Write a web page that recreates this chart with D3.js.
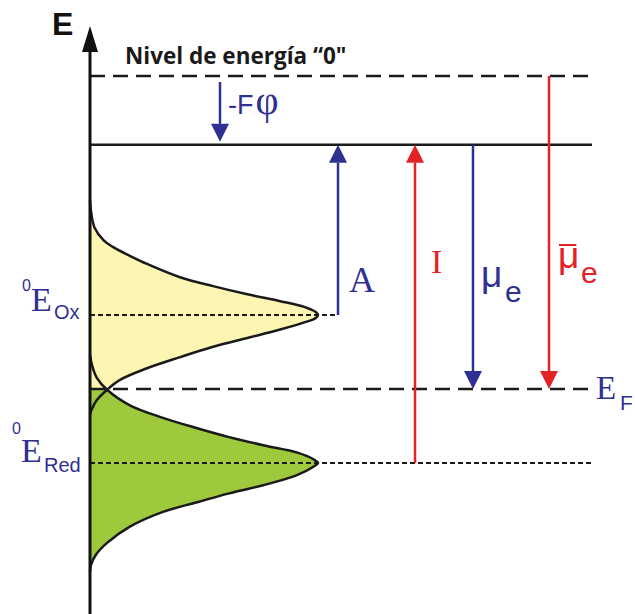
<!DOCTYPE html>
<html>
<head>
<meta charset="utf-8">
<script src="https://cdn.jsdelivr.net/npm/d3@7"></script>
<style>
  body { margin: 0; background: #fff; }
  svg { display: block; }
</style>
</head>
<body>
<div id="container"></div>
<script>

//---------------------
// DATA
//---------------------

// energy levels, arbitrary units (0 = "0" level)
const levelNames  = ['cero', 'vacio', 'ox', 'fermi', 'red'];
const levelEnergy = [0, -0.93, -3.23, -4.23, -5.23];

// density of states of the oxidised species
const oxEnergy  = [-1.68, -1.84, -2.05, -2.22, -2.31, -2.43, -2.54, -2.72, -2.84, -2.95, -3.04, -3.12, -3.19, -3.23,
                   -3.27, -3.32, -3.43, -3.54, -3.66, -3.80, -3.95, -4.11, -4.24, -4.38, -4.49, -4.57];
const oxDensity = [0, 0.005, 0.02, 0.06, 0.10, 0.175, 0.25, 0.395, 0.54, 0.69, 0.83, 0.94, 0.99, 1.0,
                   0.99, 0.95, 0.83, 0.69, 0.54, 0.395, 0.25, 0.13, 0.075, 0.03, 0.01, 0];

// density of states of the reduced species
const redEnergy  = [-3.77, -3.92, -4.08, -4.24, -4.45, -4.62, -4.76, -4.88, -4.99, -5.09, -5.18, -5.23,
                    -5.28, -5.39, -5.53, -5.64, -5.76, -5.89, -6.09, -6.31, -6.47, -6.61, -6.70];
const redDensity = [0, 0.01, 0.03, 0.075, 0.175, 0.32, 0.47, 0.61, 0.76, 0.91, 0.98, 1.0,
                    0.98, 0.91, 0.76, 0.61, 0.47, 0.32, 0.175, 0.075, 0.026, 0.004, 0];

// transitions between levels
const arrowLabels = ['-Fφ', 'A', 'I', 'μe', 'μ̄e'];
const arrowFrom   = [0, -3.23, -5.23, -0.93, 0];
const arrowTo     = [-0.93, -0.93, -0.93, -4.23, -4.23];

const axisTitle = 'E';
const zeroLabel = 'Nivel de energía “0"';

//---------------------
// LAYOUT
//---------------------

const width = 635, height = 614;
const blue = '#2e3192', red = '#e42127';
const serif = '"Times New Roman", "Liberation Serif", serif';
const sans = 'Arial, "Liberation Sans", sans-serif';

const x = d3.scaleLinear().domain([0, 1]).range([90, 318]);
const y = d3.scaleLinear().domain([0, -5.23]).range([76, 463]);

// line styles per level
const levelEnd  = [595, 592, 338, 592, 592];
const levelDash = ['15,8', null, '5,3', '15,8', '5,3'];
const levelWidth = [2.5, 2.5, 2, 2.5, 2];

const arrowX     = [220, 338, 415, 473, 549];
const arrowColor = [blue, blue, red, blue, red];
const arrowInset = [[6, 3], [0, 0], [0, 0], [0, 0], [0, 0]];

const svg = d3.select('#container')
              .append('svg')
              .attr('width', width)
              .attr('height', height);

addDensity();
addLevels();
addAxis();
addArrows();
addLabels();

//---------------------
// DENSITY OF STATES
//---------------------

function addDensity () {
  const ox = oxEnergy.map((e, i) => ({ e, d: oxDensity[i] }));
  const rd = redEnergy.map((e, i) => ({ e, d: redDensity[i] }));

  const area = d3.area()
                 .curve(d3.curveCatmullRom)
                 .y(d => y(d.e))
                 .x0(x(0))
                 .x1(d => x(d.d));

  const line = d3.line()
                 .curve(d3.curveCatmullRom)
                 .x(d => x(d.d))
                 .y(d => y(d.e));

  // green only shows below the Fermi level
  svg.append('defs')
     .append('clipPath')
     .attr('id', 'clip_red')
     .append('rect')
     .attr('x', 0)
     .attr('y', y(levelEnergy[3]))
     .attr('width', width)
     .attr('height', height);

  svg.append('path')
     .datum(ox)
     .attr('d', area)
     .attr('fill', '#fdf5b2');

  svg.append('path')
     .datum(rd)
     .attr('d', area)
     .attr('clip-path', 'url(#clip_red)')
     .attr('fill', '#9ec93c');

  svg.selectAll('.dos')
     .data([ox, rd])
     .enter()
     .append('path')
     .attr('class', 'dos')
     .attr('d', line)
     .attr('fill', 'none')
     .attr('stroke', '#1a1a1a')
     .attr('stroke-width', 2.5);
}

//---------------------
// LEVELS + AXIS
//---------------------

function addLevels () {
  svg.selectAll('.level')
     .data(levelNames)
     .enter()
     .append('line')
     .attr('class', 'level')
     .attr('x1', x(0))
     .attr('x2', (d, i) => levelEnd[i])
     .attr('y1', (d, i) => y(levelEnergy[i]))
     .attr('y2', (d, i) => y(levelEnergy[i]))
     .attr('stroke', '#1a1a1a')
     .attr('stroke-width', (d, i) => levelWidth[i])
     .attr('stroke-dasharray', (d, i) => levelDash[i]);
}

function addAxis () {
  const x0 = x(0);
  svg.append('line')
     .attr('x1', x0).attr('x2', x0)
     .attr('y1', 45).attr('y2', height)
     .attr('stroke', '#111')
     .attr('stroke-width', 3);

  svg.append('path')
     .attr('d', `M${x0},26 L${x0 + 8},52 L${x0 - 8},52 Z`)
     .attr('fill', '#111');

  svg.append('text')
     .attr('x', 52).attr('y', 35)
     .style('font', `bold 32px ${sans}`)
     .attr('fill', '#111')
     .text(axisTitle);

  svg.append('text')
     .attr('x', 125).attr('y', 64)
     .style('font', `bold 22.5px "Open Sans", sans-serif`)
     .attr('fill', '#1a1a1a')
     .text(zeroLabel);
}

//---------------------
// ARROWS
//---------------------

function addArrows () {
  const head = 18, half = 9;

  arrowLabels.forEach((label, i) => {
    const dir = arrowTo[i] > arrowFrom[i] ? -1 : 1;   // -1 = up on screen
    const y1 = y(arrowFrom[i]) + dir * arrowInset[i][0];
    const tip = y(arrowTo[i]) - dir * arrowInset[i][1];
    const base = tip - dir * head;
    const xa = arrowX[i];

    svg.append('line')
       .attr('x1', xa).attr('x2', xa)
       .attr('y1', y1).attr('y2', base)
       .attr('stroke', arrowColor[i])
       .attr('stroke-width', 2.5);

    svg.append('path')
       .attr('d', `M${xa},${tip} L${xa + half},${base} L${xa - half},${base} Z`)
       .attr('fill', arrowColor[i]);
  });
}

//---------------------
// LABELS
//---------------------

function addText (tx, ty, str, font, color) {
  return svg.append('text')
            .attr('x', tx).attr('y', ty)
            .style('font', font)
            .attr('fill', color)
            .text(str);
}

function addLabels () {
  // -Fφ
  const f = addText(228, 114, '-F', `27px ${sans}`, blue);
  f.append('tspan')
   .attr('dx', 2)
   .style('font', `40px ${serif}`)
   .text(arrowLabels[0].slice(2));
  // A, I
  addText(349, 292, arrowLabels[1], `36px ${serif}`, blue);
  addText(431, 273, arrowLabels[2], `34px ${serif}`, red);
  // μe
  addText(481, 287, 'μ', `37px ${sans}`, blue);
  addText(505, 302, 'e', `30px ${sans}`, blue);
  // μ̄e
  const mu = addText(558, 268, 'μ', `37px ${sans}`, red);
  const w = mu.node().getComputedTextLength();
  svg.append('line')
     .attr('x1', 559).attr('x2', 558 + w - 3)
     .attr('y1', 245).attr('y2', 245)
     .attr('stroke', red)
     .attr('stroke-width', 2);
  addText(581, 283, 'e', `30px ${sans}`, red);

  // level labels
  addText(22, 291, '0', `16px ${sans}`, blue);
  addText(31, 311, 'E', `34px ${serif}`, blue);
  addText(54, 319, 'Ox', `20px ${sans}`, blue);

  addText(12, 434, '0', `16px ${sans}`, blue);
  addText(21, 462, 'E', `34px ${serif}`, blue);
  addText(44, 472, 'Red', `20px ${sans}`, blue);

  addText(596, 399, 'E', `33px ${serif}`, blue);
  addText(620, 410, 'F', `21px ${sans}`, blue);
}

</script>
</body>
</html>
